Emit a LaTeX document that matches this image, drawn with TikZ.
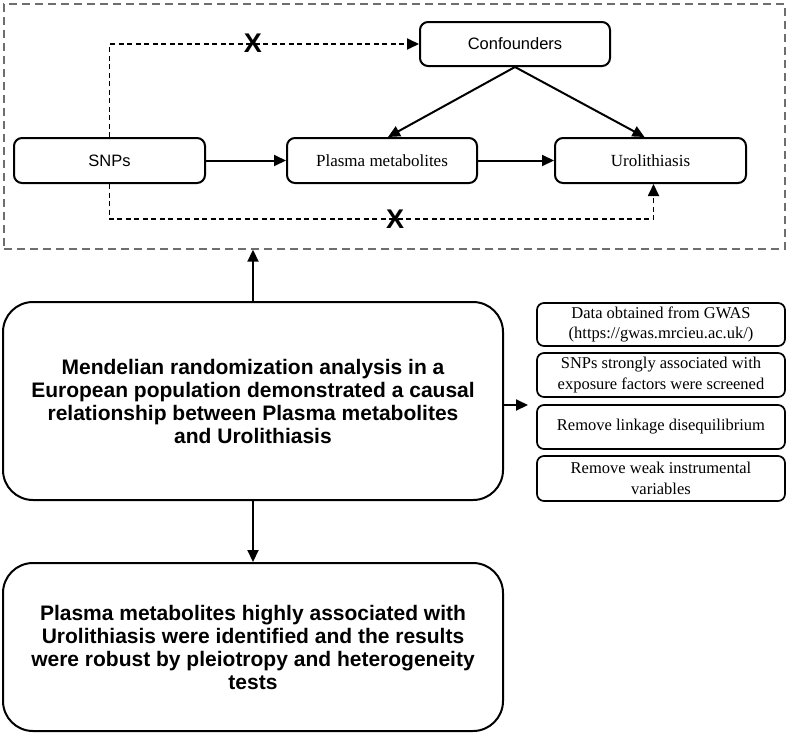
\documentclass[tikz,border=0pt]{standalone}
\usepackage{fontspec}
\setmainfont{Liberation Serif}
\newfontfamily\arialfont{Liberation Sans}
\usetikzlibrary{arrows.meta,positioning}
\begin{document}
\begin{tikzpicture}[x=1pt,y=-1pt,
  box/.style={draw=black, line width=2pt, rounded corners=8pt, inner sep=2pt, align=center},
  bigbox/.style={draw=black, line width=2pt, rounded corners=30pt, minimum width=500pt, align=center,
     font=\arialfont\bfseries\fontsize{21}{23}\selectfont},
  smallbox/.style={draw=black, line width=1.7pt, rounded corners=7pt, minimum width=248pt, align=center,
     font=\fontsize{16.5}{20.5}\selectfont},
  arr/.style={line width=2pt, -{Triangle[length=12pt,width=11pt]}},
  darr/.style={line width=1.8pt, dash pattern=on 5pt off 3.5pt, -{Triangle[length=12pt,width=11pt]}},
  xmark/.style={font=\arialfont\bfseries\fontsize{27}{27}\selectfont, inner sep=0pt}
]
\useasboundingbox (0,0) rectangle (789,734);
% frame
\node[draw={rgb,255:red,110;green,110;blue,110}, line width=1.4pt, dash pattern=on 8pt off 5pt,
      minimum width=781pt, minimum height=245pt, inner sep=0pt] (frame) at (394.5,126.5) {};
% causal diagram
\node[box, minimum width=190pt, minimum height=44pt, font=\arialfont\fontsize{16.5}{18}\selectfont] (conf) at (515,44) {Confounders};
\node[box, minimum width=191pt, minimum height=45pt, font=\arialfont\fontsize{16.5}{18}\selectfont] (snps) at (109.5,160.5) {SNPs};
\node[box, minimum width=190pt, minimum height=45pt, font=\fontsize{17}{18}\selectfont] (plasma) at (382,160.5) {Plasma metabolites};
\node[box, minimum width=191pt, minimum height=45pt, font=\fontsize{17}{18}\selectfont] (uro) at (650.5,160.5) {Urolithiasis};
\coordinate (lowy) at (0,219);
\draw[arr] (snps) -- (plasma);
\draw[arr] (plasma) -- (uro);
\draw[arr] (conf.south) -- ([xshift=6pt]plasma.north);
\draw[arr] (conf.south) -- ([xshift=-6pt]uro.north);
\draw[darr] (snps.north) |- (conf.west);
\draw[darr] (snps.south) -- (snps.south |- lowy) -| ([xshift=3pt]uro.south);
\node[xmark] (x1) at (253,43) {X};
\node[xmark] (x2) at (395,219) {X};
% main boxes
\node[bigbox, minimum height=198pt] (mr) at (253,401)
  {Mendelian randomization analysis in a\\European population demonstrated a causal\\relationship between Plasma metabolites\\and Urolithiasis};
\node[bigbox, minimum height=168pt] (res) at (253,647)
  {Plasma metabolites highly associated with\\Urolithiasis were identified and the results\\were robust by pleiotropy and heterogeneity\\tests};
\draw[arr] (mr.north) -- (mr.north |- frame.south);
\draw[arr] (mr.south) -- (res.north);
% small boxes
\node[smallbox, minimum height=43pt] (s1) at (661,324.5) {Data obtained from GWAS\\(https://gwas.mrcieu.ac.uk/)};
\node[smallbox, minimum height=44pt] (s2) at (661,375) {SNPs strongly associated with\\exposure factors were screened};
\node[smallbox, minimum height=44pt] (s3) at (661,427) {Remove linkage disequilibrium};
\node[smallbox, minimum height=45pt] (s4) at (661,478.5) {Remove weak instrumental\\variables};
\coordinate (rt) at (528,405);
\draw[arr] (mr.east |- rt) -- (rt);
\end{tikzpicture}
\end{document}
